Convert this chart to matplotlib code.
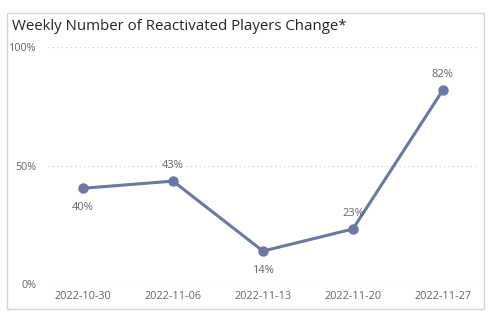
import matplotlib
matplotlib.use("Agg")
import matplotlib.pyplot as plt
from matplotlib.patches import Rectangle

plt.rcParams["font.family"] = ["Open Sans", "DejaVu Sans"]

dates = ["2022-10-30", "2022-11-06", "2022-11-13", "2022-11-20", "2022-11-27"]
values = [40.4, 43.4, 13.9, 23.2, 81.8]
label_pos = ["below", "above", "below", "above", "above"]
yticks = [0, 50, 100]

W, H = 497, 323
fig = plt.figure(figsize=(W/100, H/100), dpi=100)
fig.patch.set_facecolor("white")

# border
fig.add_artist(Rectangle((6.5/W, 1 - 308.5/H), 477/W, 295.5/H, transform=fig.transFigure,
                         fill=False, edgecolor="#D0D6E0", linewidth=1.0))

ax = fig.add_axes([48/W, 1 - 284/H, (477-48)/W, (284-47)/H])
ax.set_facecolor("none")
color = "#6B78A5"
x = list(range(len(dates)))
ax.plot(x, values, color=color, linewidth=2.2, marker="o", markersize=6.5, zorder=3)
for xi, v, pos in zip(x, values, label_pos):
    if pos == "above":
        ax.annotate(f"{round(v)}%", (xi, v), xytext=(0, 7.5), textcoords="offset points",
                    ha="center", va="bottom", fontsize=8, color="#666666")
    else:
        ax.annotate(f"{round(v)}%", (xi, v), xytext=(0, -10), textcoords="offset points",
                    ha="center", va="top", fontsize=8, color="#666666")

ax.set_xlim(-0.39, 4.38)
ax.set_ylim(0, 100)
ax.set_yticks(yticks)
ax.set_yticklabels([f"{t}%" for t in yticks])
ax.set_xticks(x)
ax.set_xticklabels(dates)
ax.tick_params(axis="both", length=0, labelsize=7.8, labelcolor="#666666")
ax.tick_params(axis="y", pad=8)
ax.tick_params(axis="x", pad=5)
for s in ax.spines.values():
    s.set_visible(False)
ax.grid(axis="y", color="#C8C8C8", linestyle=(0, (1, 3)), linewidth=0.8)
ax.set_axisbelow(True)

fig.text(12/W, 1 - 30/H, "Weekly Number of Reactivated Players Change*", fontsize=10.8,
         color="#252423", ha="left", va="baseline")

fig.savefig("out.png", dpi=100, facecolor="white")
